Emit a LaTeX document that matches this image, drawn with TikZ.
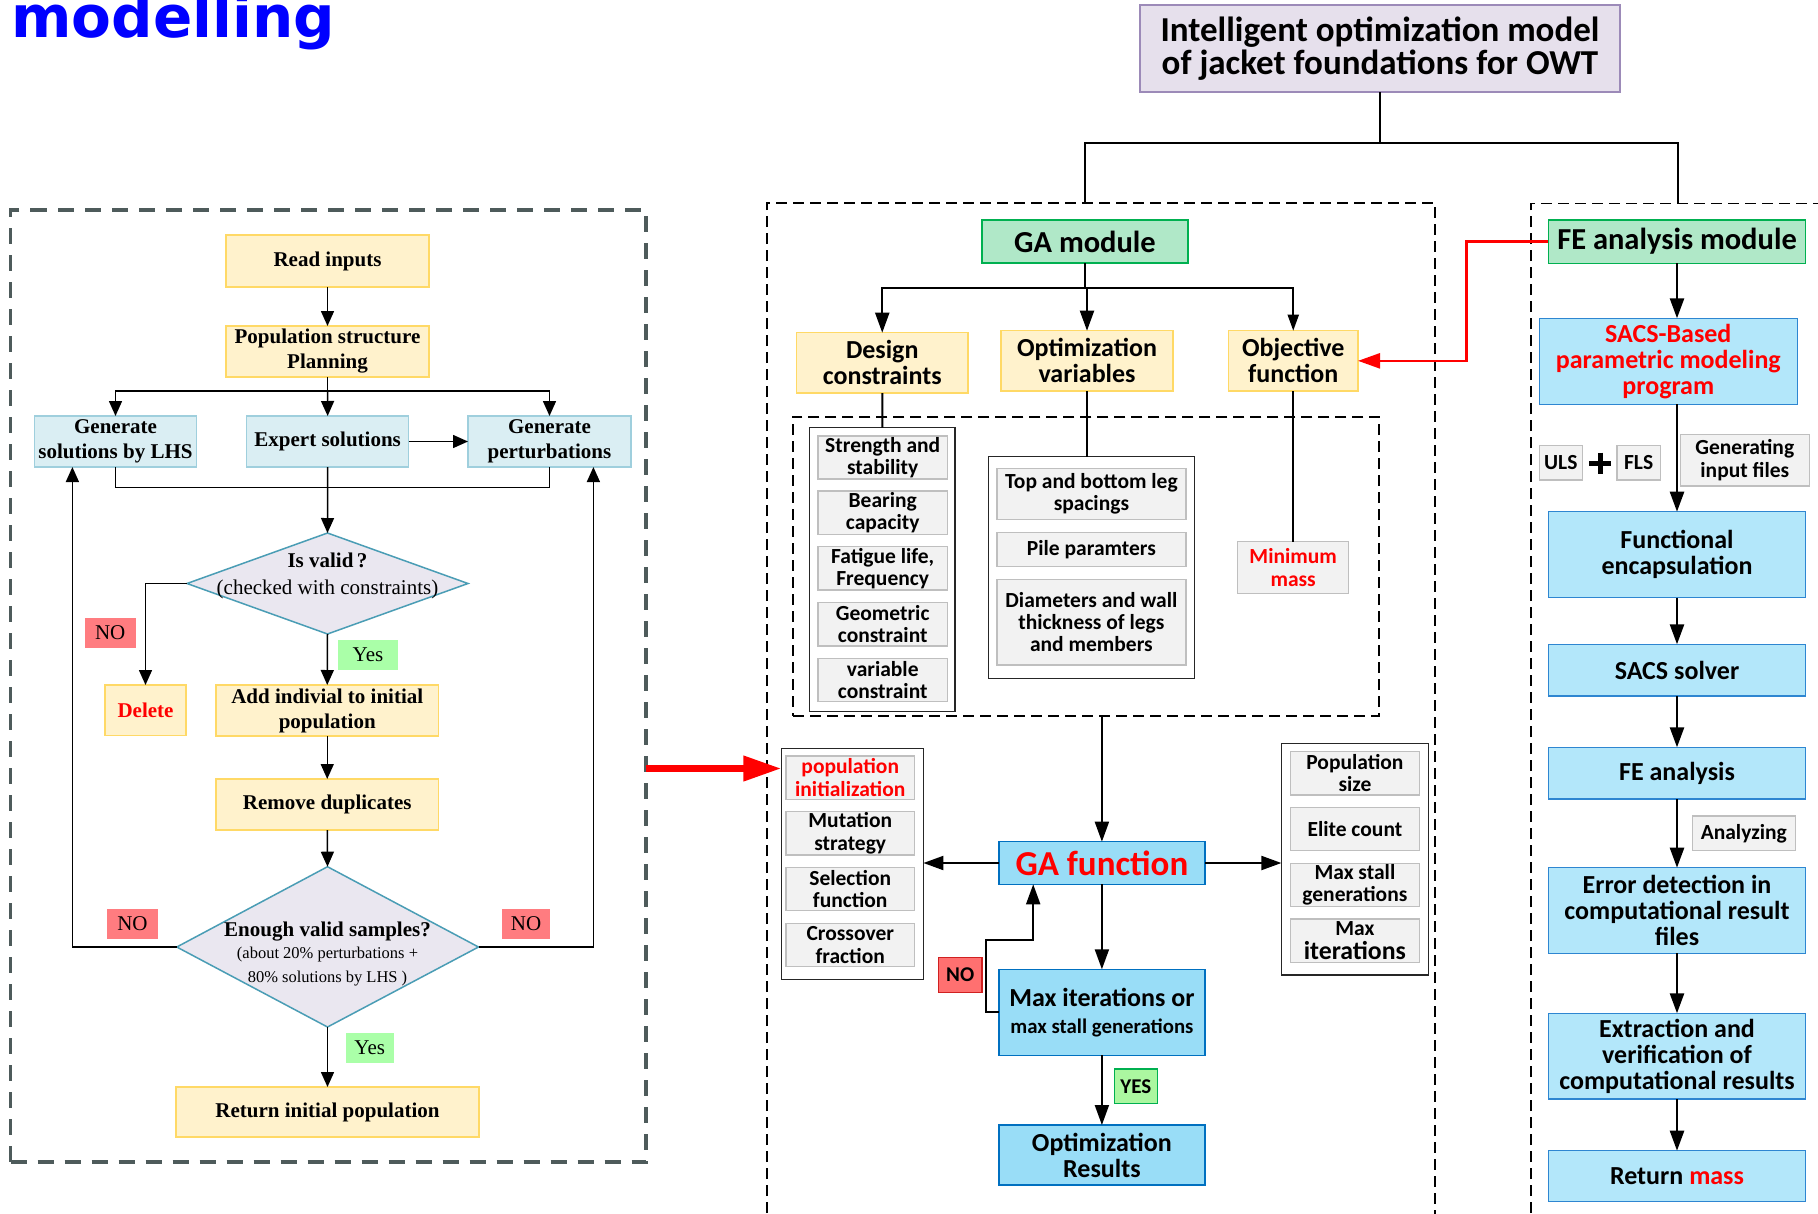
\documentclass[tikz,border=0pt]{standalone}
\usepackage{fontspec}
\setmainfont{Liberation Serif}
\newfontfamily\carl{Carlito}
\newfontfamily\dvs{DejaVu Sans}
\usetikzlibrary{arrows.meta}
\definecolor{yelF}{HTML}{FFF2CC}
\definecolor{yelB}{HTML}{FFD966}
\definecolor{lbF}{HTML}{DAEEF3}
\definecolor{lbB}{HTML}{9FCFDD}
\definecolor{diaF}{HTML}{EAE7F0}
\definecolor{diaB}{HTML}{4A9DB5}
\definecolor{noF}{HTML}{FF7C80}
\definecolor{yesF}{HTML}{AAFFA8}
\definecolor{frameC}{HTML}{4E5B5B}
\definecolor{grnF}{HTML}{B0E8C8}
\definecolor{grnB}{HTML}{00B050}
\definecolor{itF}{HTML}{F2F2F2}
\definecolor{itB}{HTML}{BFBFBF}
\definecolor{gafF}{HTML}{99DDF7}
\definecolor{bluB}{HTML}{0070C0}
\definecolor{feF}{HTML}{B3E7FA}
\definecolor{feB}{HTML}{2E86D1}
\definecolor{topF}{HTML}{E6E0EC}
\definecolor{topB}{HTML}{9C8AB8}
\definecolor{noMF}{HTML}{FF7070}
\definecolor{noMB}{HTML}{D02020}
\definecolor{yesMF}{HTML}{ABF7A0}
\definecolor{tblue}{HTML}{0000FF}
\newcommand\fs[2]{\fontsize{#1}{#2}\selectfont}
\newcommand\bx[7]{\node[#1, minimum width={(#5)-(#3)}, minimum height={(#6)-(#4)}] (#2) at ({((#3)+(#5))/2},{((#4)+(#6))/2}) {#7};}
\tikzset{
 base/.style={inner sep=0pt, outer sep=0pt, align=center, text=black},
 lyel/.style={base, fill=yelF, draw=yelB, line width=1.5pt, font=\bfseries\fs{21}{25}},
 lblu/.style={base, fill=lbF, draw=lbB, line width=1.5pt, font=\bfseries\fs{21}{25}},
 lno/.style={base, fill=noF, font=\fs{21}{25}},
 lyes/.style={base, fill=yesF, font=\fs{21}{25}},
 lfrm/.style={base, draw=frameC, line width=3.2pt, dash pattern=on 16pt off 11pt},
 gfrm/.style={draw=black, line width=1.6pt, dash pattern=on 11pt off 6pt},
 ifrm/.style={base, draw=black, line width=1.6pt, dash pattern=on 11pt off 6pt},
 mhead/.style={base, fill=yelF, draw=yelB, line width=1.5pt, font=\carl\bfseries\fs{26}{26}},
 mgrn/.style={base, fill=grnF, draw=grnB, line width=1.5pt, font=\carl\bfseries\fs{30.5}{31}},
 topbox/.style={base, fill=topF, draw=topB, line width=1.5pt, font=\carl\bfseries\fs{35}{33}},
 grp/.style={base, fill=white, draw=black!85, line width=1.5pt},
 item/.style={base, fill=itF, draw=itB, line width=1.5pt, font=\carl\bfseries\fs{21.5}{22.3}},
 gab/.style={base, fill=gafF, draw=bluB, line width=1.5pt, font=\carl\bfseries\fs{26}{26}},
 feb/.style={base, fill=feF, draw=feB, line width=1.5pt, font=\carl\bfseries\fs{26}{26}},
 mno/.style={base, fill=noMF, draw=noMB, line width=1.5pt, font=\carl\bfseries\fs{21}{22}},
 myes/.style={base, fill=yesMF, draw=grnB, line width=1.5pt, font=\carl\bfseries\fs{21}{22}},
 lnL/.style={line width=1.5pt, draw=black},
 arrL/.style={lnL, -{Triangle[length=15pt,width=13pt]}},
 lnM/.style={line width=2pt, draw=black},
 arrM/.style={lnM, -{Triangle[length=20pt,width=14pt]}},
 arrMs/.style={lnM, -{Triangle[length=16pt,width=11pt]}},
 arrF/.style={line width=2.5pt, -{Triangle[length=20pt,width=14pt]}},
}
\begin{document}
\begin{tikzpicture}[x=1pt,y=-1pt]
\useasboundingbox (0,0) rectangle (1818,1213);
\fill[white] (0,0) rectangle (1818,1213);

% title fragment
\node[anchor=base west, inner sep=0pt, text=tblue, font=\dvs\bfseries\fs{58}{60}] (ttl) at (11,37) {modelling};

% ================= left panel =================
\bx{lfrm}{lframe}{10.5}{210}{646}{1162}{}
\bx{lyel}{read}{226}{235}{429}{287}{Read inputs}
\bx{lyel}{pop}{226}{326}{429}{377}{Population structure\\Planning}
\bx{lblu}{lhs}{34.5}{416}{196.5}{467}{Generate\\solutions by LHS}
\bx{lblu}{exp}{246.6}{416}{408.7}{467}{Expert solutions}
\bx{lblu}{pert}{468}{416}{631}{467}{Generate\\perturbations}
\coordinate (d1t) at (327.5,533);
\coordinate (d1l) at (187,583.5);
\coordinate (d1r) at (468,583.5);
\coordinate (d1b) at (327.5,634);
\draw[fill=diaF, draw=diaB, line width=1.5pt] (d1t) -- (d1r) -- (d1b) -- (d1l) -- cycle;
\node[base, font=\fs{21}{27}] (d1txt) at (327.5,576) {\textbf{Is valid\,?}\\(checked with constraints)};
\bx{lno}{no1}{85}{617.7}{135.5}{648}{NO}
\bx{lyes}{yes1}{338}{640}{398}{670}{Yes}
\bx{lyel}{del}{105}{685}{186}{735.7}{\textcolor{red}{Delete}}
\bx{lyel}{add}{216}{685}{438.5}{736}{Add indivial to initial\\population}
\bx{lyel}{rem}{216}{779}{438.5}{830}{Remove duplicates}
\coordinate (d2t) at (327.5,866.7);
\coordinate (d2l) at (176.8,947);
\coordinate (d2r) at (478.5,947);
\coordinate (d2b) at (327.5,1027);
\draw[fill=diaF, draw=diaB, line width=1.5pt] (d2t) -- (d2r) -- (d2b) -- (d2l) -- cycle;
\node[base, font=\fs{21}{22}] (d2txt) at (327.5,954) {\textbf{Enough valid samples?}\\{\fs{16.5}{20}(about 20\% perturbations +}\\[2.5pt]{\fs{16.5}{20}80\% solutions by LHS )}};
\bx{lno}{no2}{107}{909}{158}{939}{NO}
\bx{lno}{no3}{502}{909}{550}{939}{NO}
\bx{lyes}{yes2}{346}{1033}{393.5}{1063}{Yes}
\bx{lyel}{ret}{176}{1087}{479}{1137}{Return initial population}

\coordinate (br) at (327.5,391);
\coordinate (mg) at (327.5,487.7);
\draw[arrL] (read.south) -- (pop.north);
\draw[lnL] (pop.south) -- (br);
\draw[arrL] (br) -- (exp.north);
\draw[arrL] (br) -| (lhs.north);
\draw[arrL] (br) -| (pert.north);
\draw[arrL] (exp.east) -- (pert.west);
\draw[lnL] (lhs.south) |- (mg) -| (pert.south);
\draw[arrL] (exp.south) -- (d1t);
\draw[arrL] (d1l) -| (del.north);
\draw[arrL] (d1b) -- (add.north);
\draw[arrL] (add.south) -- (rem.north);
\draw[arrL] (rem.south) -- (d2t);
\draw[arrL] (d2b) -- (ret.north);
\draw[arrL] (d2l) -| ([xshift=-43.1pt]lhs.south);
\draw[arrL] (d2r) -| ([xshift=43.9pt]pert.south);

% ================= top and frames =================
\bx{topbox}{top}{1140}{5}{1620}{92}{Intelligent optimization model\\of jacket foundations for OWT}
\coordinate (tj) at (1380,143);
\coordinate (gaTop) at (1084.6,202.7);
\coordinate (feTop) at (1677.7,203.3);
\draw[gfrm] (766.7,1230) -- (766.7,202.7) -- (1434.8,202.7) -- (1434.8,1230);
\draw[gfrm] (1530.7,1230) -- (1530.7,203.3) -- (1830,203.3);
\draw[lnM] (top.south) -- (tj);
\draw[lnM] (gaTop) |- (tj) -| (feTop);

% ================= GA module =================
\bx{mgrn}{gam}{982}{220}{1188}{263}{GA module}
\bx{mhead}{ds}{796.5}{332.7}{968}{393}{Design\\constraints}
\bx{mhead}{ov}{1001}{330.7}{1173}{391}{Optimization\\variables}
\bx{mhead}{of}{1228.5}{330.7}{1358}{391}{Objective\\function}
\coordinate (gbr) at (1085,288);
\draw[lnM] (gam.south) -- (gbr);
\draw[arrM] (gbr) -| (ds.north);
\draw[arrM] (gbr) -| (ov.north);
\draw[arrMs] (gbr) -| (of.north);

\bx{ifrm}{inner}{793}{416.7}{1379}{716}{}
\bx{grp}{dgrp}{809.7}{427.7}{954.9}{711.7}{}
\bx{item}{c1}{818}{436}{947.4}{479}{Strength and\\stability}
\bx{item}{c2}{818}{491}{947.4}{534.3}{Bearing\\capacity}
\bx{item}{c3}{818}{546.7}{947.4}{590}{Fatigue life,\\Frequency}
\bx{item}{c4}{818}{602.7}{947.4}{646}{Geometric\\constraint}
\bx{item}{c5}{818}{658.7}{947.4}{701.7}{variable\\constraint}
\bx{grp}{ogrp}{988.4}{456.7}{1194.5}{678.3}{}
\bx{item}{v1}{997}{468.3}{1185.8}{519.3}{Top and bottom leg\\spacings}
\bx{item}{v2}{997}{532.3}{1185.8}{566.7}{Pile paramters}
\bx{item}{v3}{997}{579.3}{1185.8}{665}{Diameters and wall\\thickness of legs\\and members}
\bx{item}{minm}{1237.6}{541.7}{1348.7}{593.3}{\textcolor{red}{Minimum}\\\textcolor{red}{mass}}
\draw[lnM] (ds.south) -- (dgrp.north);
\draw[lnM] (ov.south) -- (ov.south |- ogrp.north);
\draw[lnM] (of.south) -- (of.south |- minm.north);

\bx{gab}{gaf}{998.8}{841.7}{1205}{884.3}{\fs{35}{35}\textcolor{red}{GA function}}
\draw[arrM] (gaf.north |- inner.south) -- (gaf.north);
\bx{grp}{lgrp}{781.4}{748.3}{923.4}{979.3}{}
\bx{item}{g1}{786}{756}{914.5}{799.3}{\textcolor{red}{population}\\\textcolor{red}{initialization}}
\bx{item}{g2}{786}{811.7}{914.5}{855}{Mutation\\strategy}
\bx{item}{g3}{786}{867.7}{914.5}{910.7}{Selection\\function}
\bx{item}{g4}{786}{923.3}{914.5}{966.7}{Crossover\\fraction}
\bx{grp}{rgrp}{1281.4}{743.3}{1428.3}{975}{}
\bx{item}{p1}{1290.4}{751.7}{1419.4}{795}{Population\\size}
\bx{item}{p2}{1290.4}{807.7}{1419.4}{850.7}{Elite count}
\bx{item}{p3}{1290.4}{863.3}{1419.4}{906.7}{Max stall\\generations}
\bx{item}{p4}{1290.4}{919}{1419.4}{962.3}{Max\\[1pt]{\fs{25.8}{24}iterations}}
\draw[arrM] (gaf.west) -- (gaf.west -| lgrp.east);
\draw[arrM] (gaf.east) -- (gaf.east -| rgrp.west);

\bx{gab}{maxit}{998.8}{969.3}{1205}{1055.3}{Max iterations or\\[1pt]{\fs{20.8}{22}max stall generations}}
\bx{mno}{nom}{938.6}{957.3}{981.9}{992.7}{NO}
\bx{myes}{yesm}{1114.5}{1069}{1157.3}{1103.7}{YES}
\bx{gab}{optres}{998.8}{1125}{1205}{1185}{Optimization\\Results}
\draw[arrM] (gaf.south) -- (maxit.north);
\draw[arrM] (maxit.west) -- ++(-12.5,0) |- (1033.2,940) -- ([xshift=-68.7pt]gaf.south);
\draw[arrM] (maxit.south) -- (optres.north);

% big red arrow from the left panel
\coordinate (rin) at (646,768.5);
\draw[red, line width=7pt, -{Triangle[length=38pt,width=24pt]}] (rin) -- (rin -| lgrp.west);

% ================= FE analysis module =================
\bx{mgrn}{fem}{1548.3}{220}{1805.7}{263.3}{FE analysis module}
\bx{feb}{sacs}{1539.3}{318.3}{1797.3}{404.3}{\textcolor{red}{SACS-Based}\\\textcolor{red}{parametric modeling}\\\textcolor{red}{program}}
\bx{item}{uls}{1539.3}{445.7}{1582.3}{480}{ULS}
\bx{item}{fls}{1617}{445.7}{1660.3}{480}{FLS}
\draw[line width=5pt] (1589.3,463.3) -- (1610.7,463.3);
\draw[line width=5pt] (1600,452.7) -- (1600,474);
\bx{item}{gen}{1680.3}{434.3}{1809.3}{486}{Generating\\input files}
\bx{feb}{func}{1548.3}{511.7}{1805.7}{597.7}{Functional\\encapsulation}
\bx{feb}{solver}{1548.3}{644.3}{1805.7}{696}{SACS solver}
\bx{feb}{fea}{1548.3}{747.3}{1805.7}{799}{FE analysis}
\bx{item}{anl}{1692.3}{816}{1795.3}{850.7}{Analyzing}
\bx{feb}{err}{1548.3}{867.7}{1805.7}{953.3}{Error detection in\\computational result\\files}
\bx{feb}{ext}{1548.3}{1013.3}{1805.7}{1099}{Extraction and\\verification of\\computational results}
\bx{feb}{retm}{1548.3}{1150.7}{1805.7}{1201.7}{Return \textcolor{red}{mass}}
\draw[arrF] (fem.south) -- (fem.south |- sacs.north);
\draw[arrF] (fem.south |- sacs.south) -- (func.north);
\draw[arrF] (func.south) -- (solver.north);
\draw[arrF] (solver.south) -- (fea.north);
\draw[arrF] (fea.south) -- (err.north);
\draw[arrF] (err.south) -- (ext.north);
\draw[arrF] (ext.south) -- (retm.north);

% red link from FE module to objective function
\draw[red, line width=2.5pt, -{Triangle[length=22pt,width=15pt]}] (fem.west) -- (1466.5,241.65) |- (of.east);
\end{tikzpicture}
\end{document}
